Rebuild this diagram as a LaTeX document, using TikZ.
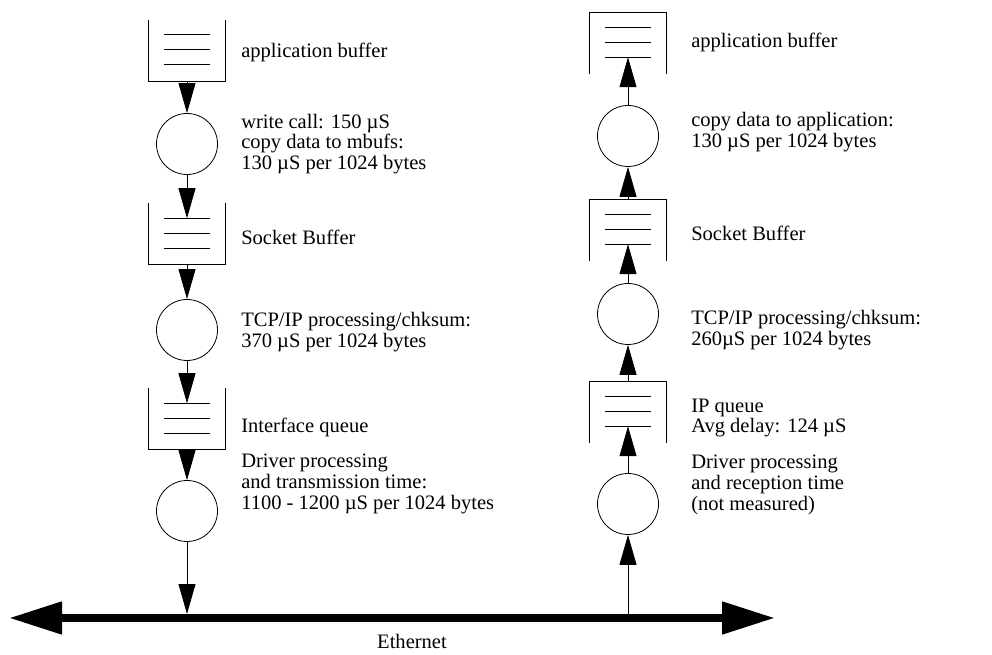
\documentclass[tikz,border=0pt]{standalone}
\usepackage{fontspec}
\setmainfont{Liberation Serif}
\usetikzlibrary{arrows.meta,positioning}

\begin{document}
\begin{tikzpicture}[
    x=0.75pt, y=-0.75pt,
    queue/.style={rectangle, inner sep=0pt, minimum width=57pt, minimum height=45.75pt},
    proc/.style={draw, circle, inner sep=0pt, minimum size=45.75pt, line width=0.6pt},
    txt/.style={anchor=west, align=left, inner sep=0pt, font=\fontsize{15.4}{16}\selectfont},
    flow/.style={-{Triangle[length=22.5pt, width=12.75pt]}, line width=0.6pt},
    ether/.style={{Triangle[length=39.75pt, width=23.25pt]}-{Triangle[length=39.75pt, width=23.25pt]}, line width=6pt}
]
    \useasboundingbox (0,0) rectangle (992,655);

    % Sending side
    \node[queue] (sa) at (187,50.5) {};
    \node[proc]  (sp1) at (187,144) {};
    \node[queue] (sb) at (187,234) {};
    \node[proc]  (sp2) at (187,330) {};
    \node[queue] (sc) at (187,419) {};
    \node[proc]  (sp3) at (187,511) {};

    \node[txt] (sa_txt) at (241,52) {application buffer};
    \node[txt] (sp1_txt) at (241,144) {write call: 150 µS\\[-1pt]copy data to mbufs:\\130 µS per 1024 bytes};
    \node[txt] (sb_txt) at (241,237) {Socket Buffer};
    \node[txt] (sp2_txt) at (241,332) {TCP/IP processing/chksum:\\370 µS per 1024 bytes};
    \node[txt] (sc_txt) at (241,427) {Interface queue};
    \node[txt] (sp3_txt) at (241,484) {Driver processing\\and transmission time:\\1100 - 1200 µS per 1024 bytes};

    % Receiving side
    \node[queue] (ra) at (628,43) {};
    \node[proc]  (rp1) at (628,136) {};
    \node[queue] (rb) at (628,230) {};
    \node[proc]  (rp2) at (628,314) {};
    \node[queue] (rc) at (628,412) {};
    \node[proc]  (rp3) at (628,504) {};

    \node[txt] (ra_txt) at (691,42) {application buffer};
    \node[txt] (rp1_txt) at (691,132) {copy data to application:\\130 µS per 1024 bytes};
    \node[txt] (rb_txt) at (691,233) {Socket Buffer};
    \node[txt] (rp2_txt) at (691,330) {TCP/IP processing/chksum:\\260µS per 1024 bytes};
    \node[txt] (rc_txt) at (691,418) {IP queue\\[-1pt]Avg delay: 124 µS};
    \node[txt] (rp3_txt) at (691,485) {Driver processing\\and reception time\\(not measured)};

    % Queue outlines (sending open at top, receiving open at bottom)
    \foreach \q in {sa,sb,sc}
        \draw[line width=0.6pt] (\q.north west) -- (\q.south west) -- (\q.south east) -- (\q.north east);
    \foreach \q in {ra,rb,rc}
        \draw[line width=0.6pt] (\q.south west) -- (\q.north west) -- (\q.north east) -- (\q.south east);
    \foreach \q in {sa,sb,sc,ra,rb,rc}
        \foreach \y in {15,30,45}
            \draw[line width=0.6pt] (\q.north west) ++(15,\y) -- ++(46,0);

    % Ethernet
    \coordinate (eth_l) at (9,618);
    \coordinate (eth_r) at (775,618);
    \coordinate (eth_top) at (400,614);
    \draw[ether] (eth_l) -- (eth_r);
    \node[font=\fontsize{15.4}{16}\selectfont] (eth_txt) at (412,641) {Ethernet};

    % Flow down the sending side
    \draw[flow] (sa.south) -- (sp1.north);
    \draw[flow] (sp1.south) -- ([yshift=-11.25pt]sb.north);
    \draw[flow] (sb.south) -- (sp2.north);
    \draw[flow] (sp2.south) -- ([yshift=-11.25pt]sc.north);
    \draw[flow] (sc.south) -- (sp3.north);
    \draw[flow] (sp3.south) -- (sp3.south |- eth_top);

    % Flow up the receiving side
    \draw[flow] (rp3.south |- eth_top) -- (rp3.south);
    \draw[flow] (rp3.north) -- ([yshift=-33.75pt]rc.north);
    \draw[flow] (rc.north) -- (rp2.south);
    \draw[flow] (rp2.north) -- ([yshift=-33.75pt]rb.north);
    \draw[flow] (rb.north) -- (rp1.south);
    \draw[flow] (rp1.north) -- ([yshift=-33.75pt]ra.north);
\end{tikzpicture}
\end{document}
